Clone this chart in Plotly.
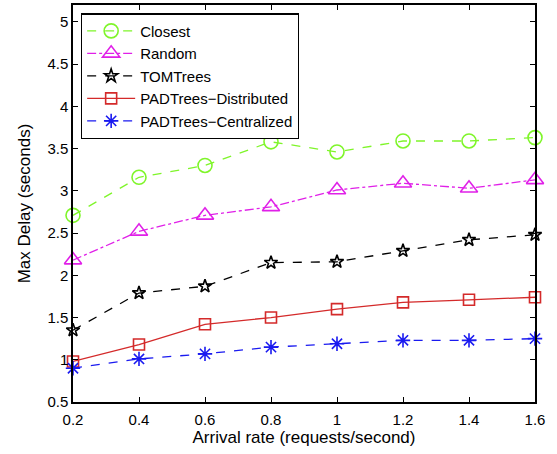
import plotly.graph_objects as go

x_vals = [0.2, 0.4, 0.6, 0.8, 1.0, 1.2, 1.4, 1.6]
closest = [2.71, 3.16, 3.30, 3.58, 3.46, 3.59, 3.59, 3.63]
random_ = [2.18, 2.52, 2.71, 2.81, 3.01, 3.09, 3.03, 3.13]
tomtrees = [1.35, 1.79, 1.87, 2.15, 2.16, 2.29, 2.42, 2.48]
pad_dist = [0.98, 1.18, 1.42, 1.50, 1.60, 1.68, 1.71, 1.74]
pad_cent = [0.90, 1.01, 1.07, 1.15, 1.19, 1.23, 1.23, 1.25]

x_ticks = [0.2, 0.4, 0.6, 0.8, 1.0, 1.2, 1.4, 1.6]
x_tick_labels = ["0.2", "0.4", "0.6", "0.8", "1", "1.2", "1.4", "1.6"]
y_ticks = [0.5, 1, 1.5, 2, 2.5, 3, 3.5, 4, 4.5, 5]
y_tick_labels = ["0.5", "1", "1.5", "2", "2.5", "3", "3.5", "4", "4.5", "5"]

series = [
    ("Closest", closest, "#7FF52A", "dash", "circle-open", 14),
    ("Random", random_, "#E020E8", "dashdot", "triangle-up-open", 15),
    ("TOMTrees", tomtrees, "#000000", "dash", "star-open", 10),
    ("PADTrees\u2212Distributed", pad_dist, "#D42A2A", "solid", "square-open", 11),
    ("PADTrees\u2212Centralized", pad_cent, "#1A1AF0", "dash", "asterisk-open", 12),
]

fig = go.Figure()
for name, ys, color, dash, sym, size in series:
    fig.add_trace(go.Scatter(
        x=x_vals, y=ys, name=name, mode="lines+markers",
        line=dict(color=color, dash=dash, width=1.3),
        marker=dict(symbol=sym, size=size, color=color, line=dict(color=color, width=1.6)),
        cliponaxis=False,
    ))

FONT = "Liberation Sans, Arial, sans-serif"
axis_common = dict(
    showgrid=False, zeroline=False, showline=True, linecolor="black", linewidth=1.5,
    mirror="ticks", ticks="inside", ticklen=5, tickwidth=1, tickcolor="black",
    tickfont=dict(family=FONT, size=15, color="black"),
    automargin=False,
)

fig.update_layout(
    width=557, height=454,
    margin=dict(l=73, r=22, t=5, b=52),
    paper_bgcolor="white", plot_bgcolor="white",
    font=dict(family=FONT, size=15, color="black"),
    xaxis=dict(range=[0.2, 1.6], tickvals=x_ticks, ticktext=x_tick_labels,
               ticklabelstandoff=3,
               title=dict(text="Arrival rate (requests/second)", font=dict(size=17), standoff=4),
               **axis_common),
    yaxis=dict(range=[0.5, 5.2], tickvals=y_ticks, ticktext=y_tick_labels,
               title=dict(text="Max Delay (seconds)", font=dict(size=17), standoff=12),
               **axis_common),
    legend=dict(x=0.017, y=0.979, xanchor="left", yanchor="top",
                bgcolor="white", bordercolor="black", borderwidth=1.3,
                font=dict(size=15), tracegroupgap=0, itemwidth=48,
                traceorder="normal"),
    showlegend=True,
)

fig.write_html("out.html", config={"displayModeBar": False},
               post_script="document.body.style.margin='0px';")
